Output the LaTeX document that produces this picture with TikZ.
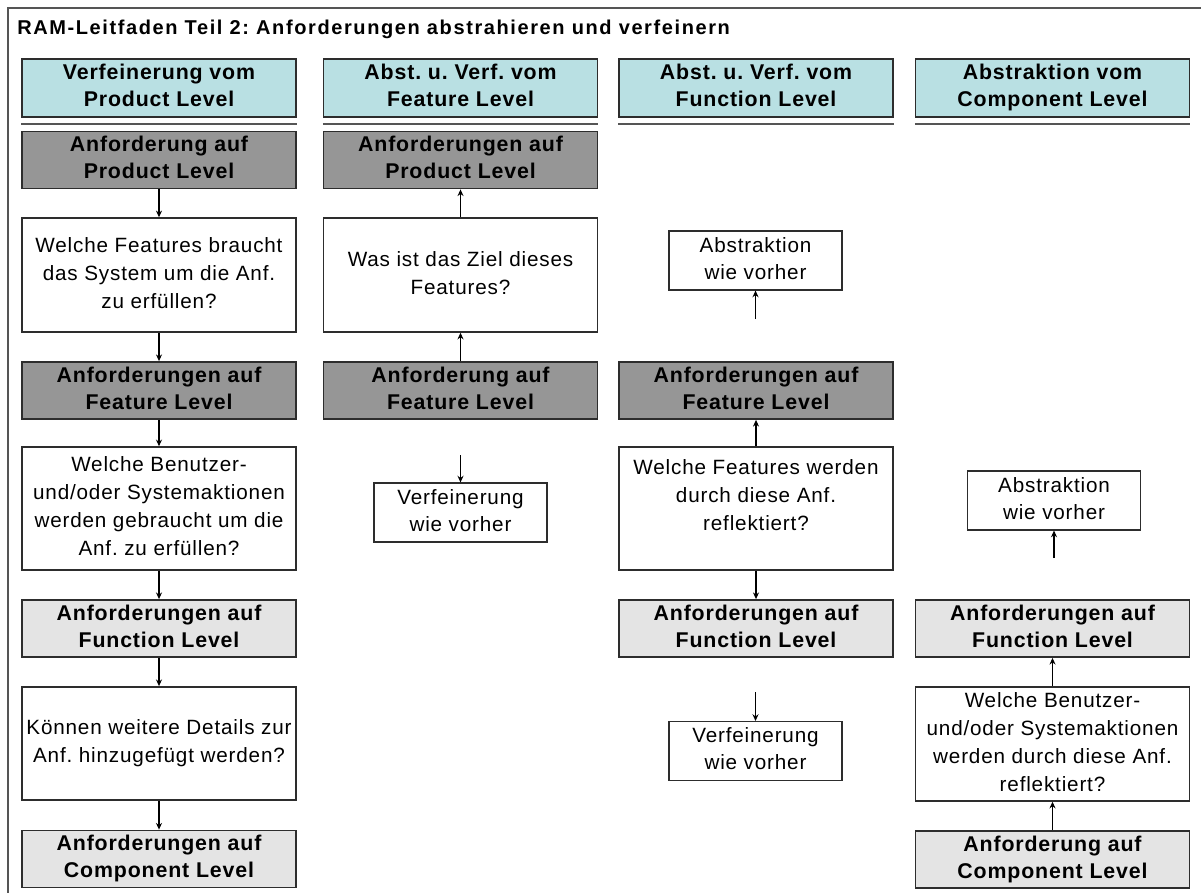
\documentclass[tikz,border=0pt]{standalone}
\usepackage{fontspec}
\setmainfont{Liberation Sans}
\newfontfamily\boxfont[LetterSpace=4]{Liberation Sans}
\newfontfamily\titlefont[LetterSpace=8]{Liberation Sans}
\usetikzlibrary{arrows.meta}
\definecolor{hdrfill}{RGB}{185,224,227}
\definecolor{darkfill}{RGB}{150,150,150}
\definecolor{lightfill}{RGB}{228,228,228}
\definecolor{edgegray}{RGB}{45,45,45}
\definecolor{framegray}{RGB}{85,85,85}
% struts that fix the room above the first and below the last line
\newcommand\topstrut{\rule{0pt}{1.12em}}
\newcommand\botstrut{\rule[-0.22em]{0pt}{0pt}}
\frenchspacing
\begin{document}
\begin{tikzpicture}[x=0.75pt,y=-0.75pt,
  base/.style={draw=edgegray,line width=1.1pt,inner sep=0pt,align=center,
    minimum width=205.5pt,
    execute at begin node={\frenchspacing\topstrut},
    execute at end node={\botstrut}},
  boldtxt/.style={font=\boxfont\fontsize{16}{20.2}\selectfont\bfseries},
  plaintxt/.style={font=\boxfont\fontsize{15.5}{21}\selectfont},
  hdr/.style={base,boldtxt,fill=hdrfill,minimum height=43.5pt},
  darkbox/.style={base,boldtxt,fill=darkfill,minimum height=43pt},
  lightbox/.style={base,boldtxt,fill=lightfill,minimum height=43pt},
  ques/.style={base,plaintxt,fill=white},
  smallbox/.style={base,fill=white,minimum width=129.5pt,minimum height=44pt,
    font=\boxfont\fontsize{15.5}{20.2}\selectfont},
  conn/.style={draw=black,line width=0.8pt,-{Stealth[length=5pt,width=4.5pt]}},
  sep/.style={draw=framegray,line width=1.8pt},
  frame/.style={draw=framegray,line width=1.1pt}
]
\useasboundingbox (0,0) rectangle (1201,892);
\clip (0,0) rectangle (1201,892);

% outer frame (runs off the right and bottom edges)
\draw[frame] (8,900) -- (8,8) -- (1210,8);

% title
\node[anchor=base west,inner sep=0pt,font=\titlefont\fontsize{15}{18}\selectfont\bfseries] (title) at (17,35)
  {RAM-Leitfaden Teil 2: Anforderungen abstrahieren und verfeinern};

% column headers
\node[hdr] (h1) at (159,88)    {Verfeinerung vom\\Product Level};
\node[hdr] (h2) at (460.5,88)  {Abst. u. Verf. vom\\Feature Level};
\node[hdr] (h3) at (756,88)    {Abst. u. Verf. vom\\Function Level};
\node[hdr] (h4) at (1052.5,88) {Abstraktion vom\\Component Level};
\foreach \h in {h1,h2,h3,h4}
  \draw[sep] ([yshift=-4.9pt]\h.south west) -- ([yshift=-4.9pt]\h.south east);

% column 1: refinement from product level
\node[darkbox] (p1) at (159,160) {Anforderung auf\\Product Level};
\node[ques,minimum height=85.5pt] (q11) at (159,275)
  {Welche Features braucht\\das System um die Anf.\\zu erfüllen?};
\node[darkbox] (f1) at (159,390.5) {Anforderungen auf\\Feature Level};
\node[ques,minimum height=92.3pt] (q12) at (159,508.5)
  {Welche Benutzer-\\und/oder Systemaktionen\\werden gebraucht um die\\Anf. zu erfüllen?};
\node[lightbox] (fn1) at (159,628.5) {Anforderungen auf\\Function Level};
\node[ques,minimum height=85pt] (q13) at (159,743.5)
  {Können weitere Details zur\\Anf. hinzugefügt werden?};
\node[lightbox] (c1) at (159,859) {Anforderungen auf\\Component Level};
\draw[conn] (p1) -- (q11);
\draw[conn] (q11) -- (f1);
\draw[conn] (f1) -- (q12);
\draw[conn] (q12) -- (fn1);
\draw[conn] (fn1) -- (q13);
\draw[conn] (q13) -- (c1);

% column 2: feature level
\node[darkbox] (p2) at (460.5,160) {Anforderungen auf\\Product Level};
\node[ques,minimum height=85.5pt] (q21) at (460.5,275)
  {Was ist das Ziel dieses\\Features?};
\node[darkbox] (f2) at (460.5,390.5) {Anforderung auf\\Feature Level};
\coordinate (s2) at (460.5,455);
\node[smallbox] (v2) at (460.5,512.5) {Verfeinerung\\wie vorher};
\draw[conn] (q21) -- (p2);
\draw[conn] (f2) -- (q21);
\draw[conn] (s2) -- (v2);

% column 3: function level
\node[smallbox] (a3) at (755.5,260.5) {Abstraktion\\wie vorher};
\coordinate (t3) at (755.5,319);
\node[darkbox] (f3) at (756,390.5) {Anforderungen auf\\Feature Level};
\node[ques,minimum height=92.3pt] (q3) at (756,508.5)
  {Welche Features werden\\durch diese Anf.\\reflektiert?\rule[-20pt]{0pt}{0pt}};
\node[lightbox] (fn3) at (756,628.5) {Anforderungen auf\\Function Level};
\coordinate (s3) at (755.5,692);
\node[smallbox] (v3) at (755.5,751) {Verfeinerung\\wie vorher};
\draw[conn] (t3) -- (a3);
\draw[conn] (q3) -- (f3);
\draw[conn] (q3) -- (fn3);
\draw[conn] (s3) -- (v3);

% column 4: component level
\node[smallbox] (a4) at (1054,500.5) {Abstraktion\\wie vorher};
\coordinate (t4) at (1054,558);
\node[lightbox] (fn4) at (1052.5,628.5) {Anforderungen auf\\Function Level};
\node[ques,minimum height=85.5pt] (q4) at (1052.5,744)
  {Welche Benutzer-\\und/oder Systemaktionen\\werden durch diese Anf.\\reflektiert?};
\node[lightbox] (c4) at (1052.5,859.5) {Anforderung auf\\Component Level};
\draw[conn] (t4) -- (a4);
\draw[conn] (q4) -- (fn4);
\draw[conn] (c4) -- (q4);
\end{tikzpicture}
\end{document}
